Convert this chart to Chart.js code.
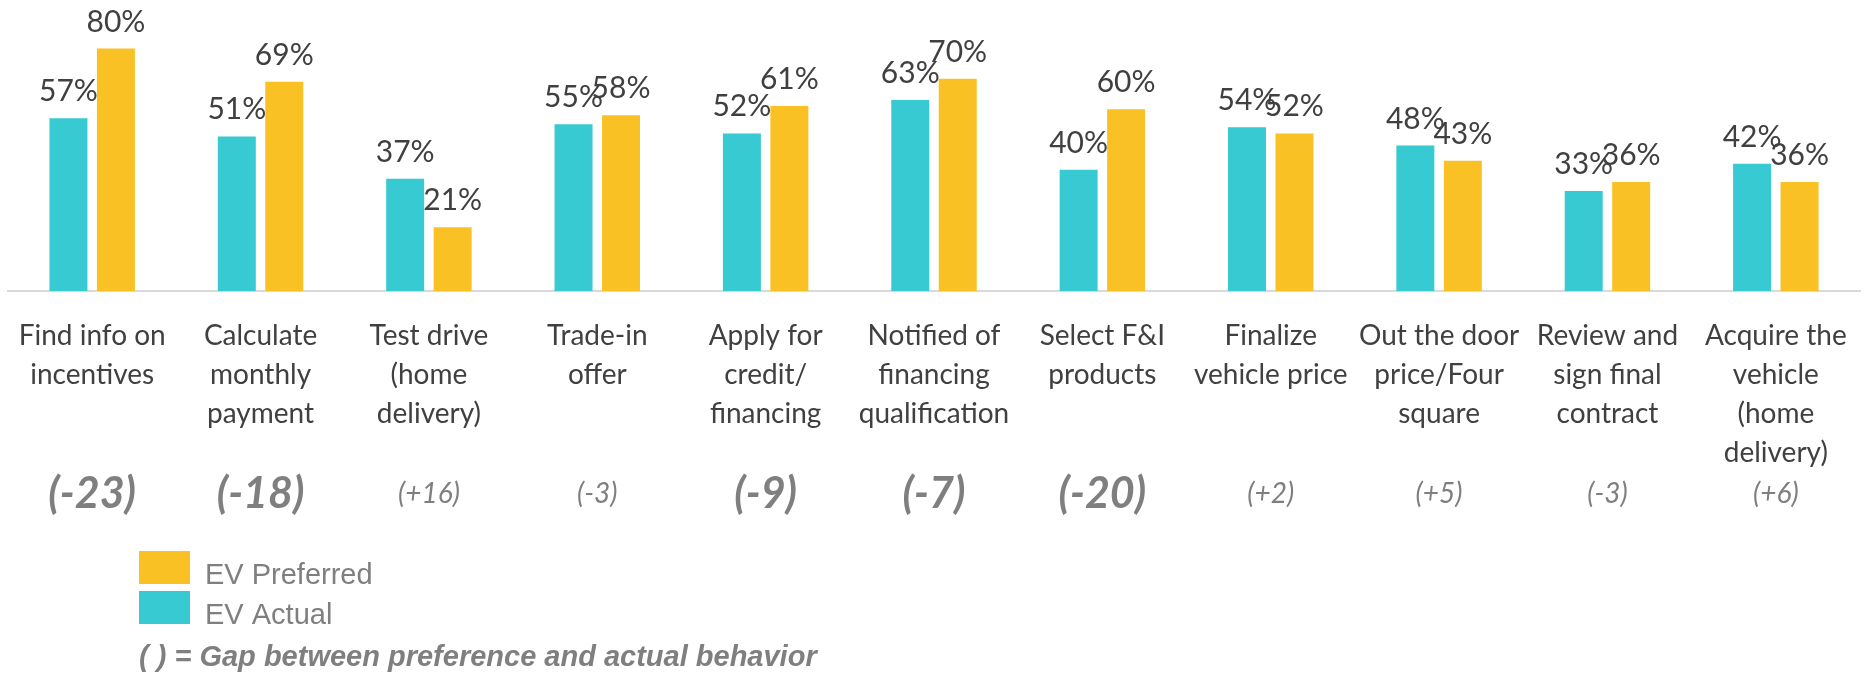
<!DOCTYPE html>
<html>
<head>
<meta charset="utf-8">
<script src="https://cdn.jsdelivr.net/npm/chart.js@4/dist/chart.umd.min.js"></script>
<style>
  html,body{margin:0;padding:0;background:#fff;}
  #wrap{position:relative;width:1866px;height:673px;}
</style>
</head>
<body>
<div id="wrap"><canvas id="c"></canvas></div>
<script>
  /* EV purchase steps: actual vs preferred online */
  var categories = [
    ['Find info on','incentives'],
    ['Calculate','monthly','payment'],
    ['Test drive','(home','delivery)'],
    ['Trade-in','offer'],
    ['Apply for','credit/','financing'],
    ['Notified of','financing','qualification'],
    ['Select F&I','products'],
    ['Finalize','vehicle price'],
    ['Out the door','price/Four','square'],
    ['Review and','sign final','contract'],
    ['Acquire the','vehicle','(home','delivery)']
  ];
  var evActual    = [57, 51, 37, 55, 52, 63, 40, 54, 48, 33, 42];
  var evPreferred = [80, 69, 21, 58, 61, 70, 60, 52, 43, 36, 36];
  var gaps        = [-23, -18, 16, -3, -9, -7, -20, 2, 5, -3, 6];
  var gapStrong   = [true, true, false, false, true, true, true, false, false, false, false];
  var footnote = '( ) = Gap between preference and actual behavior';

  var TEAL = '#37CAD2', GOLD = '#F9C124';

  function gapText(v){ return '(' + (v > 0 ? '+' : '') + v + ')'; }

  var extras = {
    id: 'extras',
    afterDatasetsDraw: function(chart){
      var ctx = chart.ctx;
      ctx.save();
      /* value labels */
      ctx.font = '30px Lato';
      ctx.fillStyle = '#404040';
      ctx.textAlign = 'center';
      ctx.textBaseline = 'alphabetic';
      chart.data.datasets.forEach(function(ds, i){
        chart.getDatasetMeta(i).data.forEach(function(bar, j){
          ctx.fillText(ds.data[j] + '%', bar.x, bar.y - 17);
        });
      });
      /* gap labels */
      var xs = chart.scales.x;
      ctx.fillStyle = '#7F7F7F';
      ctx.textBaseline = 'middle';
      gaps.forEach(function(g, i){
        ctx.font = gapStrong[i] ? 'italic bold 43px Lato' : 'italic 28px Lato';
        ctx.fillText(gapText(g), xs.getPixelForValue(i), 494);
      });
      /* legend (reverse order) */
      var items = chart.data.datasets.slice().reverse();
      ctx.textAlign = 'left';
      ctx.textBaseline = 'alphabetic';
      ctx.font = '29px "Liberation Sans"';
      items.forEach(function(ds, k){
        var y = 551 + k * 40;
        ctx.fillStyle = ds.backgroundColor;
        ctx.fillRect(139, y, 51, 33);
        ctx.fillStyle = '#7F7F7F';
        ctx.fillText(ds.label, 205, y + 33);
      });
      /* footnote */
      ctx.font = 'italic bold 29px "Liberation Sans"';
      ctx.fillStyle = '#7F7F7F';
      ctx.fillText(footnote, 139, 666);
      ctx.restore();
    }
  };

  new Chart(document.getElementById('c'), {
    type: 'bar',
    data: {
      labels: categories,
      datasets: [
        { label: 'EV Actual',    data: evActual,    backgroundColor: TEAL, categoryPercentage: 0.564, barPercentage: 0.8 },
        { label: 'EV Preferred', data: evPreferred, backgroundColor: GOLD, categoryPercentage: 0.564, barPercentage: 0.8 }
      ]
    },
    options: {
      responsive: true, maintainAspectRatio: false, animation: false,
      layout: { padding: { left: 8, right: 6, top: 0, bottom: 0 } },
      plugins: { legend: { display: false }, tooltip: { enabled: false } },
      scales: {
        x: {
          grid: { display: false, drawTicks: false },
          border: { display: true, color: '#D9D9D9', width: 2 },
          ticks: { color: '#404040', font: { family: 'Lato', size: 28, lineHeight: 1.4 }, padding: 25, autoSkip: false, maxRotation: 0, minRotation: 0 },
          afterFit: function(s){ s.height = 382; s.paddingLeft = 0; s.paddingRight = 0; }
        },
        y: { display: false, min: 0, max: 96 }
      }
    },
    plugins: [extras]
  });
</script>
</body>
</html>
